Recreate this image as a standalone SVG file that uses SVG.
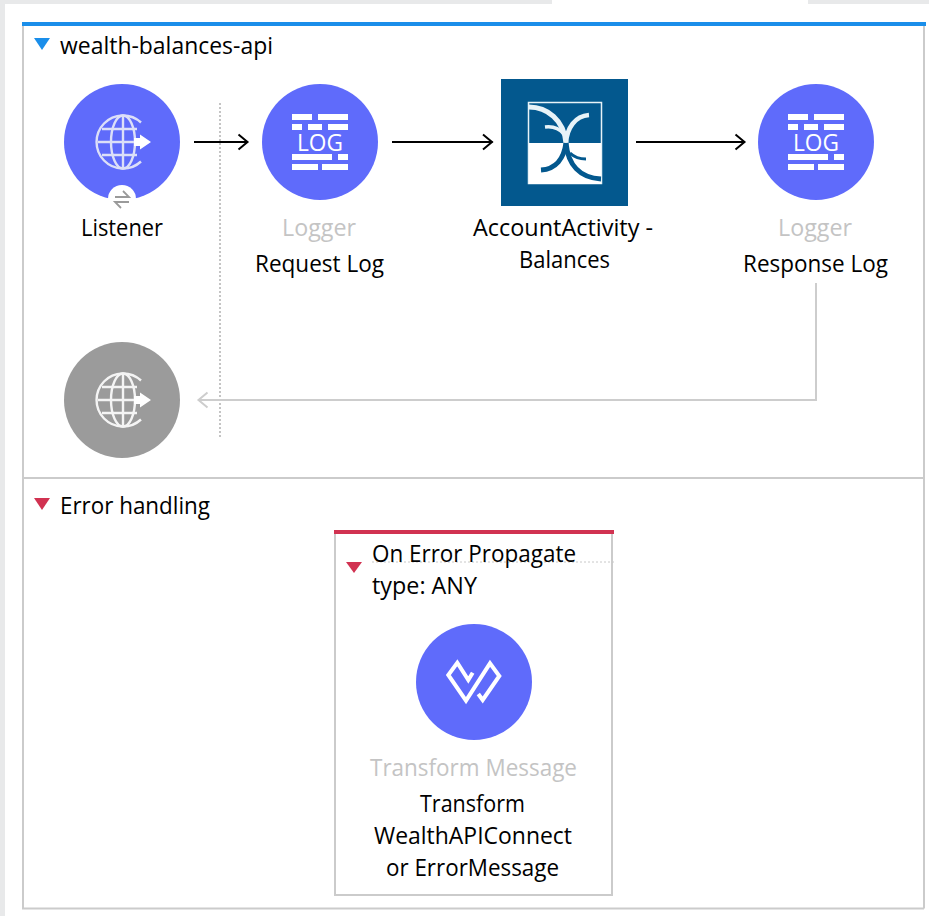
<svg xmlns="http://www.w3.org/2000/svg" width="929" height="916" viewBox="0 0 929 916">
<style>
text{font-family:"Open Sans","Noto Sans","Liberation Sans",sans-serif;font-size:23px;fill:#000;text-anchor:middle}
.t{text-anchor:start}
.g{fill:#c4c4c4}
.c{fill:#5f6bfb}
.line{fill:none;stroke:#cbcbcb;stroke-width:2}
.dash{fill:none;stroke:#c4c4c4;stroke-width:2;stroke-dasharray:2 2}
.flow{fill:none;stroke:#000;stroke-width:2}
.ret{fill:none;stroke:#cdcdcd;stroke-width:2}
.log{fill:#fff}
.logt{fill:#fff;font-size:24px}
.gl{fill:none;stroke-width:2.400}
.lt{fill:none;stroke:#e8f3f8}
.dk{fill:none;stroke:#03588e}
</style>
<defs>
<marker id="a" markerUnits="userSpaceOnUse" markerWidth="16" markerHeight="18" refX="13.500" refY="9" orient="auto"><path d="M4 1.500L13 9L4 16.500" fill="none" stroke="#000" stroke-width="2"/></marker>
<marker id="r" markerUnits="userSpaceOnUse" markerWidth="16" markerHeight="18" refX="13.500" refY="9" orient="auto"><path d="M4 1.500L13 9L4 16.500" fill="none" stroke="#cdcdcd" stroke-width="2"/></marker>
<g id="logI">
<path class="log" d="M-28-28h20v6h-20zM-2-28h30v6h-30zM-28-18h10v6h-10zM-12-18h14v6h-14zM8-18h20v6h-20zM-28 12h40v6h-40zM18 12h10v6h-10zM-28 22h26v6h-26zM2 22h26v6h-26z"/>
<text class="logt" x="0" y="9" textLength="46" lengthAdjust="spacingAndGlyphs">LOG</text>
</g>
<g id="globe" class="gl">
<path d="M18-19.500A26.500 26.500 0 1 0 18 19.500"/>
<path d="M-25 0H12M-21-13H14M-21 13H14M0-26.500V26.500"/>
<ellipse cx="0" cy="0" rx="12" ry="26.500"/>
</g>
<path id="arrowI" d="M0-4h6v-3.500l11 7.500l-11 7.500v-3.500h-6z" fill="#fff"/>
</defs>
<rect width="929" height="916" fill="#fff"/>
<g id="chrome">
<rect x="0" y="0" width="552" height="4" fill="#e8e9ea"/>
<rect x="808" y="0" width="121" height="4" fill="#e8e9ea"/>
<rect x="0" y="0" width="5" height="916" fill="#e8e9ea"/>
</g>
<g id="frame">
<path class="line" d="M23 26V908.500H924M924 26V908.500M23 478H924"/>
<rect x="22" y="22" width="904" height="4" fill="#1a8eea"/>
<path d="M34 38H50L42 50Z" fill="#1a8eea"/>
<text class="t" x="60" y="54" textLength="213" lengthAdjust="spacingAndGlyphs">wealth-balances-api</text>
<path d="M34 498H50L42 510Z" fill="#d13251"/>
<text class="t" x="60" y="514" textLength="150" lengthAdjust="spacingAndGlyphs">Error handling</text>
</g>
<g id="connectors">
<path class="dash" d="M220 103V437"/>
<path class="flow" d="M194 142H248" marker-end="url(#a)"/>
<path class="flow" d="M392 142H492.500" marker-end="url(#a)"/>
<path class="flow" d="M636 142H745" marker-end="url(#a)"/>
<path class="ret" d="M816 283V400H198" marker-end="url(#r)"/>
</g>
<g id="listener">
<circle class="c" cx="122" cy="142" r="58"/>
<use href="#globe" x="123" y="142" stroke="#dcdff8"/>
<use href="#arrowI" x="134" y="142"/>
<circle cx="122" cy="199" r="14" fill="#fff"/>
<path d="M115 197H129L123 191M129 202H115L121 208" fill="none" stroke="#9a9a9a" stroke-width="1.800"/>
<text x="122" y="236" textLength="82" lengthAdjust="spacingAndGlyphs">Listener</text>
</g>
<g id="request-log">
<circle class="c" cx="320" cy="142" r="58"/>
<use href="#logI" x="320" y="142"/>
<text class="g" x="319" y="236" textLength="74" lengthAdjust="spacingAndGlyphs">Logger</text>
<text x="319.500" y="272" textLength="129" lengthAdjust="spacingAndGlyphs">Request Log</text>
</g>
<g id="account-activity">
<rect x="501" y="79" width="127" height="127" fill="#03588e"/>
<rect x="528.500" y="102.500" width="73" height="81" fill="none" stroke="#e8f3f8" stroke-width="1.500"/>
<rect x="529" y="143" width="72" height="41" fill="#fff"/>
<path class="lt" d="M529 107C547 107 564 120 566 143" stroke-width="5"/>
<path class="lt" d="M589 115C575 116 567 128 566 143" stroke-width="4.500"/>
<path class="lt" d="M545 127C553 126 559 128 564 134" stroke-width="3.500"/>
<path class="dk" d="M566 143C564 158 556 169 541 170" stroke-width="5"/>
<path class="dk" d="M566 143C568 165 580 178 601 179" stroke-width="5"/>
<path class="dk" d="M570 153C574 157 579 159 586 159" stroke-width="3"/>
<text x="563" y="236" textLength="180" lengthAdjust="spacingAndGlyphs">AccountActivity -</text>
<text x="564.500" y="268" textLength="91" lengthAdjust="spacingAndGlyphs">Balances</text>
</g>
<g id="response-log">
<circle class="c" cx="816" cy="142" r="58"/>
<use href="#logI" x="816" y="142"/>
<text class="g" x="815" y="236" textLength="74" lengthAdjust="spacingAndGlyphs">Logger</text>
<text x="815.500" y="272" textLength="145" lengthAdjust="spacingAndGlyphs">Response Log</text>
</g>
<g id="listener-response">
<circle cx="122" cy="400" r="58" fill="#9b9b9b"/>
<use href="#globe" x="123" y="400" stroke="#f4f4f4"/>
<use href="#arrowI" x="134" y="400"/>
</g>
<g id="on-error-propagate">
<path class="line" d="M335 534V895H612V534"/>
<rect x="334" y="530" width="280" height="4" fill="#d13251"/>
<path d="M346 562H362L354 573Z" fill="#d13251"/>
<path d="M372 562H614" fill="none" stroke="#c8c8c8" stroke-width="1" stroke-dasharray="2 2"/>
<text class="t" x="372" y="562" textLength="204" lengthAdjust="spacingAndGlyphs">On Error Propagate</text>
<text class="t" x="372" y="594" textLength="105" lengthAdjust="spacingAndGlyphs">type: ANY</text>
</g>
<g id="transform-message">
<circle class="c" cx="474" cy="682" r="58"/>
<path d="M472.700 672.700L468.300 680L457.300 662.700L448.300 675L466 700.700L490 663.300L499.300 676L482.700 700L478.300 694" fill="none" stroke="#fff" stroke-width="4"/>
<text class="g" x="473.500" y="776" textLength="207" lengthAdjust="spacingAndGlyphs">Transform Message</text>
<text x="472.500" y="812" textLength="105" lengthAdjust="spacingAndGlyphs">Transform</text>
<text x="473" y="844" textLength="198" lengthAdjust="spacingAndGlyphs">WealthAPIConnect</text>
<text x="472.500" y="876" textLength="173" lengthAdjust="spacingAndGlyphs">or ErrorMessage</text>
</g>
</svg>
